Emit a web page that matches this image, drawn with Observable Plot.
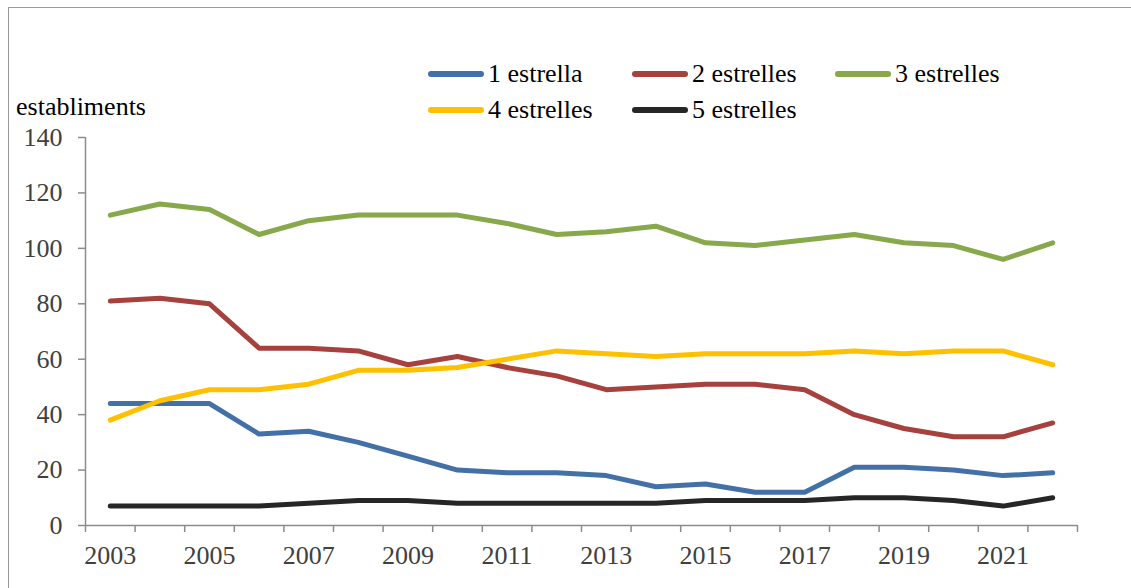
<!DOCTYPE html>
<html>
<head>
<meta charset="utf-8">
<script src="https://cdn.jsdelivr.net/npm/d3@7"></script>
<script src="https://cdn.jsdelivr.net/npm/@observablehq/plot@0.6"></script>
<style>
  html, body { margin: 0; padding: 0; background: #fff; font-family: 'Liberation Serif', serif; }
  #wrap { position: relative; width: 1131px; height: 588px; overflow: hidden; font-family: 'Liberation Serif', serif; }
  #frame { position: absolute; left: 8px; top: 7px; width: 1200px; height: 700px; border: 1.5px solid #9a9a9a; box-sizing: border-box; }
  .txt { position: absolute; font-size: 26px; line-height: normal; color: #000; white-space: nowrap; font-family: 'Liberation Serif', serif; }
  .sw { position: absolute; width: 56px; height: 6px; border-radius: 3px; }
  #chart { position: absolute; left: 0; top: 0; }
</style>
</head>
<body>
<div id="wrap">
  <div id="frame"></div>
  <div id="chart"></div>
  <div class="txt" style="left:16px; top:92px;">establiments</div>
  <div id="legend"></div>
</div>
<script>
// Hotel establishments by category, 2003–2022
const years = d3.range(2003, 2023);
const seriesNames = ["1 estrella", "2 estrelles", "3 estrelles", "4 estrelles", "5 estrelles"];
const seriesColors = ["#4470a8", "#a6413e", "#87a84b", "#ffc000", "#262626"];

const oneStar   = [44, 44, 44, 33, 34, 30, 25, 20, 19, 19, 18, 14, 15, 12, 12, 21, 21, 20, 18, 19];
const twoStars  = [81, 82, 80, 64, 64, 63, 58, 61, 57, 54, 49, 50, 51, 51, 49, 40, 35, 32, 32, 37];
const threeStars = [112, 116, 114, 105, 110, 112, 112, 112, 109, 105, 106, 108, 102, 101, 103, 105, 102, 101, 96, 102];
const fourStars = [38, 45, 49, 49, 51, 56, 56, 57, 60, 63, 62, 61, 62, 62, 62, 63, 62, 63, 63, 58];
const fiveStars = [7, 7, 7, 7, 8, 9, 9, 8, 8, 8, 8, 8, 9, 9, 9, 10, 10, 9, 7, 10];

const yTicks = [0, 20, 40, 60, 80, 100, 120, 140];
const xLabelYears = [2003, 2005, 2007, 2009, 2011, 2013, 2015, 2017, 2019, 2021];

const seriesValues = [oneStar, twoStars, threeStars, fourStars, fiveStars];
const rows = seriesNames.flatMap((name, i) =>
  years.map((year, j) => ({series: name, year, value: seriesValues[i][j]}))
);

// category boundaries for the x tick marks
const boundaries = d3.range(years[0] - 0.5, years[years.length - 1] + 1, 1);
const axisGray = "#8c8c8c";
const labelGray = "#404040";
const serif = "'Liberation Serif', serif";

const chart = Plot.plot({
  width: 1131,
  height: 588,
  marginLeft: 85,
  marginRight: 54,
  marginTop: 137,
  marginBottom: 63,
  style: {fontFamily: serif, background: "transparent", overflow: "visible"},
  x: {domain: [boundaries[0], boundaries[boundaries.length - 1]]},
  y: {domain: [0, 140]},
  color: {domain: seriesNames, range: seriesColors},
  marks: [
    Plot.ruleX([boundaries[0]], {stroke: axisGray, strokeWidth: 1.5}),
    Plot.ruleY([0], {stroke: axisGray, strokeWidth: 1.5}),
    Plot.axisY({ticks: yTicks, tickSize: 7, tickPadding: 16, stroke: axisGray, strokeWidth: 1.5, strokeOpacity: 1, fontSize: 26, fill: labelGray, label: null}),
    Plot.axisX({ticks: boundaries, tickSize: 7, tickFormat: () => "", stroke: axisGray, strokeWidth: 1.5, strokeOpacity: 1, label: null}),
    Plot.axisX({ticks: xLabelYears, tickSize: 0, tickPadding: 20, tickFormat: d => String(d), fontSize: 26, fill: labelGray, label: null}),
    Plot.lineY(rows, {x: "year", y: "value", z: "series", stroke: "series", strokeWidth: 5, strokeLinejoin: "round", strokeLinecap: "round"})
  ]
});
document.getElementById("chart").appendChild(chart);

// legend, two rows: swatch then label
const legendCols = [428, 632, 835];
const legendRows = [74, 110];
const legend = document.getElementById("legend");
seriesNames.forEach((name, i) => {
  const left = legendCols[i % 3];
  const mid = legendRows[Math.floor(i / 3)];
  const sw = document.createElement("div");
  sw.className = "sw";
  sw.style.left = left + "px";
  sw.style.top = (mid - 3) + "px";
  sw.style.background = seriesColors[i];
  legend.appendChild(sw);
  const t = document.createElement("div");
  t.className = "txt";
  t.style.left = (left + 60) + "px";
  t.style.top = (mid - 15) + "px";
  t.textContent = name;
  legend.appendChild(t);
});
</script>
</body>
</html>
